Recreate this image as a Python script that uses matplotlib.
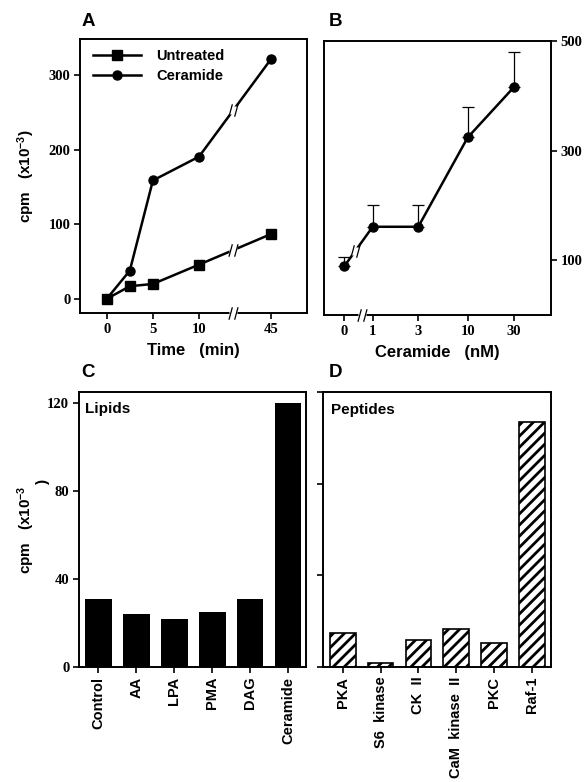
"""Ceramide-activated kinase figure: time course, dose response, substrate panels."""
import matplotlib
matplotlib.use("Agg")
import matplotlib.pyplot as plt
from matplotlib.path import Path

# panel A: time course (cpm x10^-3)
times = [0, 2.5, 5, 10, 45]
untreated = [0, 17, 20, 46, 87]
ceramide = [0, 38, 159, 191, 322]

# panel B: dose response
doses = ["0", "1", "3", "10", "30"]
dose_cpm = [89, 161, 161, 324, 416]
dose_err = [16, 39, 40, 56, 64]

# panel C: lipids
lipids = ["Control", "AA", "LPA", "PMA", "DAG", "Ceramide"]
lipid_cpm = [31, 24, 22, 25, 31, 120]

# panel D: peptides
peptides = ["PKA", "S6  kinase", "CK  II", "CaM  kinase  II", "PKC", "Raf-1"]
peptide_cpm = [14.8, 1.9, 12, 16.8, 10.6, 106.8]

SANS = "Liberation Sans"
SERIF = "Liberation Serif"
plt.rcParams["font.family"] = [SANS, "DejaVu Sans"]
plt.rcParams["font.weight"] = "bold"
plt.rcParams["axes.labelweight"] = "bold"
plt.rcParams["mathtext.default"] = "regular"
plt.rcParams["hatch.linewidth"] = 2.0
plt.rcParams["axes.linewidth"] = 1.4

# "//" break marker
BREAK = Path([(-1.6, -2.2), (-0.4, 2.2), (0.4, -2.2), (1.6, 2.2)],
             [Path.MOVETO, Path.LINETO, Path.MOVETO, Path.LINETO])


def time_pos(t):
    # broken axis: linear to 10 min, then 45 min squeezed in
    return t if t <= 10 else 17.8


def break_mark(ax, x, y, clip=True):
    ax.plot([x], [y], marker="s", ms=6, mfc="white", mec="none", zorder=4, clip_on=clip)
    ax.plot([x], [y], marker=BREAK, ms=9, mec="black", mew=0.9, zorder=5, clip_on=clip)


def style(ax):
    ax.tick_params(direction="out", length=4, width=1.2, pad=3)
    for lab in ax.get_yticklabels():
        lab.set_fontfamily(SERIF)
        lab.set_fontsize(10.5)
        lab.set_fontweight("bold")


fig = plt.figure(figsize=(5.85, 7.82), dpi=100)
W, H = 585.0, 782.0


def axes_px(l, r, t, b):
    return fig.add_axes([l / W, 1 - b / H, (r - l) / W, (b - t) / H])


# ---- A ----
axA = axes_px(80, 307, 39, 313)
xa = [time_pos(t) for t in times]
axA.plot(xa, untreated, "-s", color="black", lw=1.8, ms=6.5, label="Untreated")
axA.plot(xa, ceramide, "-o", color="black", lw=1.8, ms=6.5, label="Ceramide")
axA.set_xlim(-2.9, 21.7)
axA.set_ylim(-19, 349)
axA.set_xticks([time_pos(t) for t in [0, 5, 10, 45]])
axA.set_xticklabels(["0", "5", "10", "45"], fontfamily=SERIF, fontsize=10.5, fontweight="bold")
axA.set_yticks([0, 100, 200, 300])
xb = 13.7
for ys in (untreated, ceramide):
    yb = ys[3] + (ys[4] - ys[3]) * (xb - 10) / (17.8 - 10)
    break_mark(axA, xb, yb)
break_mark(axA, xb, -19, clip=False)
axA.set_xlabel("Time   (min)", fontsize=12, labelpad=5)
axA.set_ylabel("cpm   (x10$^{-3}$)", fontsize=11)
axA.yaxis.set_label_coords(-0.19, 0.5)
leg = axA.legend(loc="upper left", bbox_to_anchor=(0.02, 0.995), frameon=False,
                 handlelength=3.3, handletextpad=1.0, labelspacing=0.4,
                 borderaxespad=0.2, prop={"family": SANS, "weight": "bold", "size": 10.5})
style(axA)

# ---- B ----
axB = axes_px(324, 551, 41, 315)
dose_pos = [0, 0.604, 1.574, 2.626, 3.611]
axB.errorbar(dose_pos, dose_cpm, yerr=[[0] * len(dose_err), dose_err], fmt="-o",
             color="black", lw=1.8, ms=6.5, elinewidth=0.9, capsize=4, capthick=0.9)
axB.set_xlim(-0.432, 4.398)
axB.set_ylim(0, 500)
axB.yaxis.tick_right()
axB.set_yticks([100, 300, 500])
axB.set_xticks(dose_pos)
axB.set_xticklabels(doses, fontfamily=SERIF, fontsize=10.5, fontweight="bold")
break_mark(axB, 0.23, dose_cpm[0] + (dose_cpm[1] - dose_cpm[0]) * 0.23 / 0.604)
break_mark(axB, 0.37, 0, clip=False)
axB.set_xlabel("Ceramide   (nM)", fontsize=12, labelpad=5)
style(axB)

# ---- C ----
axC = axes_px(79, 306, 392, 667)
axC.bar(range(len(lipids)), lipid_cpm, width=0.7, color="black")
axC.set_xlim(-0.51, 5.47)
axC.set_ylim(0, 125)
axC.set_yticks([0, 40, 80, 120])
axC.set_xticks(range(len(lipids)))
axC.set_xticklabels(lipids, rotation=90, fontsize=10.5)
axC.set_ylabel("cpm   (x10$^{-3}$", fontsize=11)
axC.yaxis.set_label_coords(-0.185, 0.5)
fig.text(43 / W, 1 - 481 / H, ")", rotation=90, fontsize=11, ha="center", va="center")
axC.text(0.026, 0.94, "Lipids", transform=axC.transAxes, fontsize=11, va="center")
style(axC)

# ---- D ----
axD = axes_px(323, 551, 392, 667)
axD.bar(range(len(peptides)), peptide_cpm, width=0.68, facecolor="white",
        edgecolor="black", hatch="///", linewidth=1.2)
axD.set_xlim(-0.52, 5.5)
axD.set_ylim(0, 120)
axD.set_yticks([0, 40, 80, 120])
axD.set_yticklabels([])
axD.set_xticks(range(len(peptides)))
axD.set_xticklabels(peptides, rotation=90, fontsize=10.5)
axD.text(0.037, 0.935, "Peptides", transform=axD.transAxes, fontsize=11, va="center")
style(axD)

# panel letters
for letter, x, y in [("A", 88, 22), ("B", 335, 22), ("C", 88, 373), ("D", 335, 373)]:
    fig.text(x / W, 1 - y / H, letter, fontsize=13.5, ha="center", va="center")

fig.savefig("out.png", dpi=100)
